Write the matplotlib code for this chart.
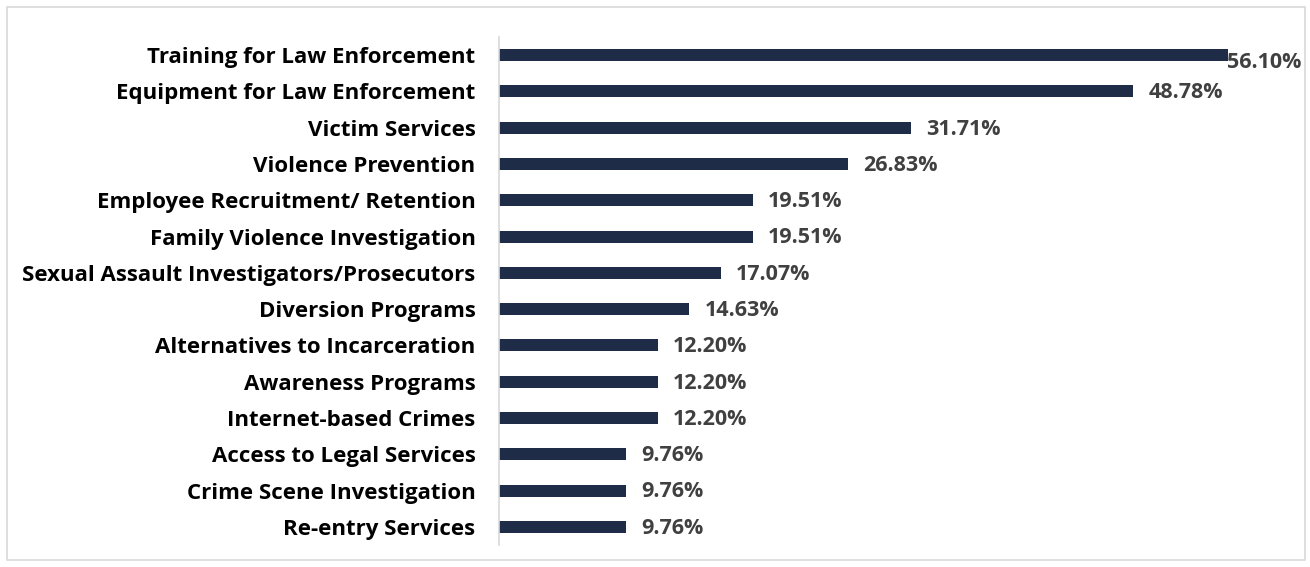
import matplotlib.pyplot as plt
from matplotlib.patches import Rectangle

categories = ["Training for Law Enforcement", "Equipment for Law Enforcement", "Victim Services",
              "Violence Prevention", "Employee Recruitment/ Retention", "Family Violence Investigation",
              "Sexual Assault Investigators/Prosecutors", "Diversion Programs",
              "Alternatives to Incarceration", "Awareness Programs", "Internet-based Crimes",
              "Access to Legal Services", "Crime Scene Investigation", "Re-entry Services"]
values = [56.10, 48.78, 31.71, 26.83, 19.51, 19.51, 17.07, 14.63, 12.20, 12.20, 12.20, 9.76, 9.76, 9.76]

plt.rcParams['font.family'] = ['Open Sans', 'DejaVu Sans']

fig = plt.figure(figsize=(13.1, 5.67), dpi=100)
fig.patches.append(Rectangle((7/1310, 7/567), 1298/1310, 553/567, transform=fig.transFigure,
                             fill=False, edgecolor='#D9D9D9', linewidth=1.2))
ax = fig.add_axes([499/1310, 22/567, 780/1310, 508/567])

ypos = list(range(len(values)))
ax.barh(ypos, values, height=0.33, color='#1F2C48')
ax.set_xlim(0, 60)
ax.set_ylim(len(values) - 0.5, -0.5)

for i, v in enumerate(values):
    if i == 0:
        ax.annotate(f"{v:.2f}%", (v, i), xytext=(-1, -5.5), textcoords='offset points',
                    ha='left', va='center', fontsize=15.5, fontweight='bold', color='#404040')
    else:
        ax.annotate(f"{v:.2f}%", (v, i), xytext=(11, -1), textcoords='offset points',
                    ha='left', va='center', fontsize=15.5, fontweight='bold', color='#404040')

ax.set_yticks(ypos)
ax.set_yticklabels(categories, fontsize=16, fontweight='bold', color='black')
ax.tick_params(axis='y', length=0, pad=17)
ax.set_xticks([])
for s in ['top', 'right', 'bottom']:
    ax.spines[s].set_visible(False)
ax.spines['left'].set_color('#D9D9D9')
ax.spines['left'].set_linewidth(1.2)

fig.savefig('out.png')
